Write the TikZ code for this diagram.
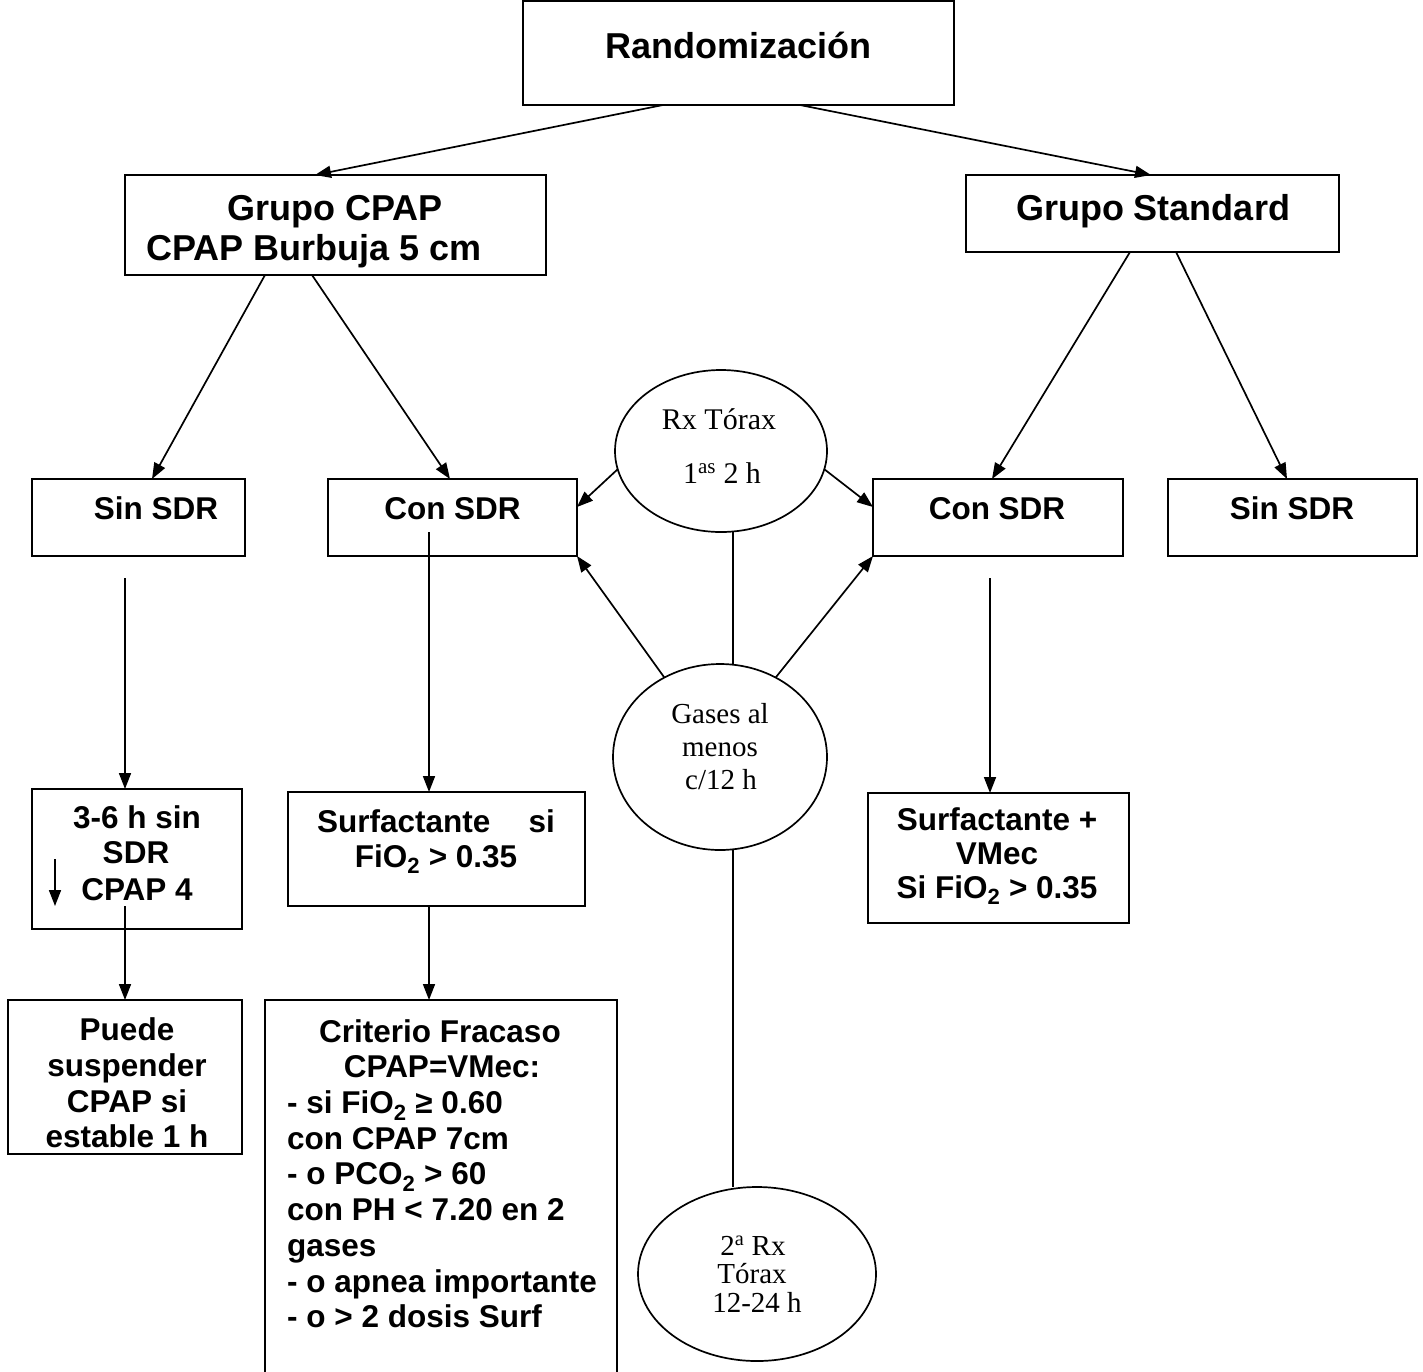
\documentclass[tikz,border=0pt]{standalone}
\usepackage{fontspec}
\newfontfamily\arialf{Liberation Sans}
\newfontfamily\tnrf{Liberation Serif}
\usetikzlibrary{arrows.meta,shapes.geometric}
\tikzset{
 box/.style={draw, line width=1.8pt, rectangle, inner sep=0pt, outer sep=0pt},
 ell/.style={draw, line width=1.7pt, ellipse, inner sep=0pt, outer sep=0pt},
 bt/.style={font=\arialf\bfseries\fontsize{31.5}{36}\selectfont, inner sep=0pt, anchor=base},
 ht/.style={font=\arialf\bfseries\fontsize{36}{41}\selectfont, inner sep=0pt, anchor=base},
 st/.style={font=\tnrf\fontsize{29}{33}\selectfont, inner sep=0pt, anchor=base},
 arr/.style={line width=1.7pt, -{Triangle[length=16pt,width=12pt]}},
 ln/.style={line width=1.7pt},
}
\begin{document}
\begin{tikzpicture}[x=1pt,y=-1pt]
\useasboundingbox (0,0) rectangle (1423,1371);
% boxes
\node[box, minimum width=431pt, minimum height=104pt] (rand) at (738.5,53) {};
\node[box, minimum width=421pt, minimum height=100pt] (cpap) at (335.5,225) {};
\node[box, minimum width=373pt, minimum height=77pt] (std) at (1152.5,213.5) {};
\node[box, minimum width=213pt, minimum height=77pt] (sin1) at (138.5,517.5) {};
\node[box, minimum width=249pt, minimum height=77pt] (con1) at (452.5,517.5) {};
\node[box, minimum width=250pt, minimum height=77pt] (con2) at (998,517.5) {};
\node[box, minimum width=249pt, minimum height=77pt] (sin2) at (1292.5,517.5) {};
\node[box, minimum width=210pt, minimum height=140pt] (b36) at (137,859) {};
\node[box, minimum width=234pt, minimum height=154pt] (puede) at (125,1077) {};
\node[box, minimum width=297pt, minimum height=114pt] (surf1) at (436.5,849) {};
\node[box, minimum width=352pt, minimum height=400pt] (crit) at (441,1200) {};
\node[box, minimum width=261pt, minimum height=130pt] (surf2) at (998.5,858) {};
% ellipses
\node[ell, minimum width=212pt, minimum height=162pt] (e1) at (721,451) {};
\node[ell, minimum width=214pt, minimum height=186pt] (e2) at (720,757) {};
\node[ell, minimum width=238pt, minimum height=174pt] (e3) at (757,1274) {};
% texts
\node[ht] (trand) at (738.5,58) {Randomización};
\node[ht] (tcpap1) at (335,220) {Grupo CPAP};
\node[ht] (tcpap2) at (314,260) {CPAP Burbuja 5 cm};
\node[ht] (tstd) at (1153,220) {Grupo Standard};
\node[bt] (tsin1) at (156,519) {Sin SDR};
\node[bt] (tcon1) at (452.5,519) {Con SDR};
\node[bt] (tcon2) at (997,519) {Con SDR};
\node[bt] (tsin2) at (1292,519) {Sin SDR};
\node[bt] (tb1) at (137,828) {3-6 h sin};
\node[bt] (tb2) at (136,863) {SDR};
\node[bt] (tb3) at (137,900) {CPAP 4};
\node[bt] (tp1) at (127,1040) {Puede};
\node[bt] (tp2) at (127,1076) {suspender};
\node[bt] (tp3) at (127,1112) {CPAP si};
\node[bt] (tp4) at (127,1147) {estable 1 h};
\node[bt, anchor=base west] (ts1a) at (317,832) {Surfactante};
\node[bt, anchor=base east] (ts1b) at (555,832) {si};
\node[bt] (ts1c) at (436,867) {FiO\textsubscript{2} > 0.35};
\node[bt] (tc1) at (440,1042) {Criterio Fracaso};
\node[bt] (tc2) at (442,1077.7) {CPAP=VMec:};
\node[bt, anchor=base west] (tc3) at (287,1113.4) {- si FiO\textsubscript{2} ≥ 0.60};
\node[bt, anchor=base west] (tc4) at (287,1149) {con CPAP 7cm};
\node[bt, anchor=base west] (tc5) at (287,1184.8) {- o PCO\textsubscript{2} > 60};
\node[bt, anchor=base west] (tc6) at (287,1220.5) {con PH < 7.20 en 2};
\node[bt, anchor=base west] (tc7) at (287,1256) {gases};
\node[bt, anchor=base west] (tc8) at (287,1292) {- o apnea importante};
\node[bt, anchor=base west] (tc9) at (287,1327.7) {- o > 2 dosis Surf};
\node[bt] (ts2a) at (997,830) {Surfactante +};
\node[bt] (ts2b) at (997,864) {VMec};
\node[bt] (ts2c) at (997,898) {Si FiO\textsubscript{2} > 0.35};
\node[st, font=\tnrf\fontsize{30}{34}\selectfont] (te1a) at (719,429) {Rx Tórax};
\node[st, font=\tnrf\fontsize{30}{34}\selectfont] (te1b) at (722,483) {1\textsuperscript{as} 2 h};
\node[st] (te2a) at (720,723) {Gases al};
\node[st] (te2b) at (720,756) {menos};
\node[st] (te2c) at (721,789) {c/12 h};
\node[st] (te3a) at (753,1255) {2\textsuperscript{a} Rx};
\node[st] (te3b) at (752,1283) {Tórax};
\node[st] (te3c) at (757,1312) {12-24 h};
% small arrow inside b36
\coordinate (sa1) at (55,859);
\coordinate (sa2) at (55,906);
% connectors
\draw[arr] ([xshift=-75.5pt]rand.south) -- ([xshift=-20.5pt]cpap.north);
\draw[arr] ([xshift=61.5pt]rand.south) -- ([xshift=-1.5pt]std.north);
\draw[arr] ([xshift=-70.5pt]cpap.south) -- ([xshift=13.5pt]sin1.north);
\draw[arr] ([xshift=-23.5pt]cpap.south) -- ([xshift=-2.5pt]con1.north);
\draw[arr] ([xshift=-22.5pt]std.south) -- ([xshift=-6pt]con2.north);
\draw[arr] ([xshift=23.5pt]std.south) -- ([xshift=-5.5pt]sin2.north);
\draw[arr] (e1.190) -- ([yshift=10.5pt]con1.east);
\draw[arr] (e1.350) -- ([yshift=10.5pt]con2.west);
\draw[ln] ([xshift=12pt]e1.south) -- ([xshift=13pt]e2.north);
\draw[arr] (e2.125) -- (con1.south east);
\draw[arr] (e2.55) -- (con2.south west);
\draw[ln] ([xshift=13pt]e2.south) -- ([xshift=-24pt]e3.north);
\draw[arr] ([xshift=-13.5pt,yshift=-22pt]sin1.south) -- ([xshift=-12pt]b36.north);
\draw[arr] ([xshift=-23.5pt,yshift=24pt]con1.south) -- ([xshift=-7.5pt]surf1.north);
\draw[arr] ([xshift=-8pt,yshift=-22pt]con2.south) -- ([xshift=-8.5pt]surf2.north);
\draw[arr] ([xshift=-12pt,yshift=23pt]b36.south) -- (puede.north);
\draw[arr] (sa1) -- (sa2);
\draw[arr] ([xshift=-7.5pt]surf1.south) -- ([xshift=-12pt]crit.north);
\end{tikzpicture}
\end{document}
